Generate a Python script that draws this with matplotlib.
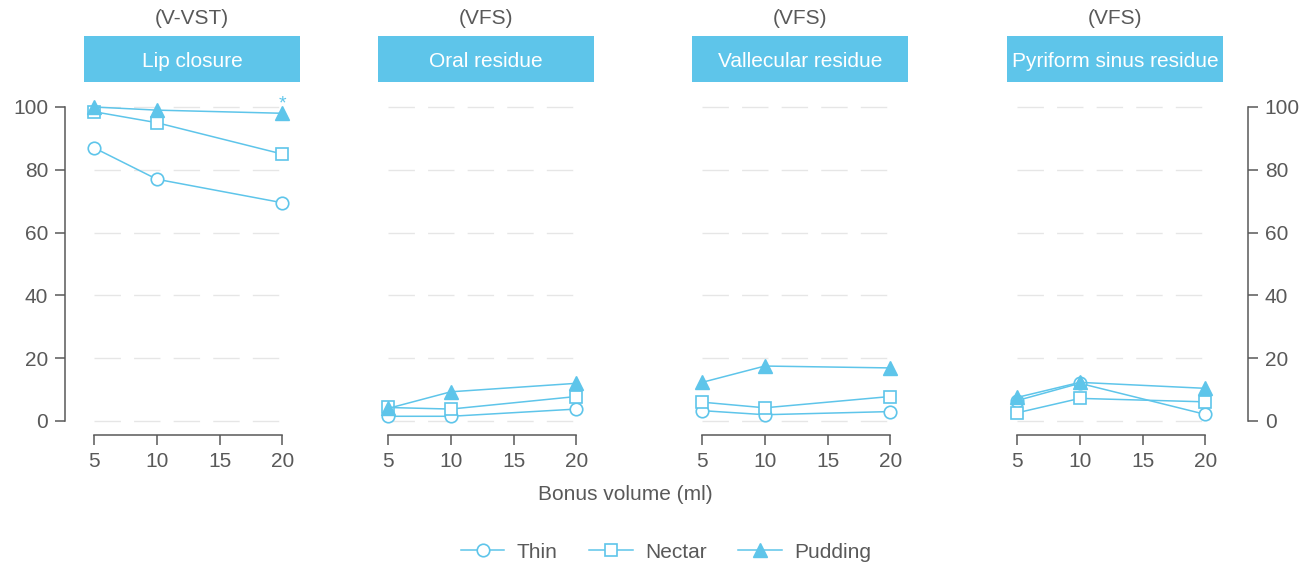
import matplotlib.pyplot as plt
from matplotlib.patches import Rectangle
from matplotlib.lines import Line2D

plt.rcParams['font.family'] = ['Liberation Sans', 'DejaVu Sans']

# data
volumes = [5, 10, 20]
panels = ['Lip closure', 'Oral residue', 'Vallecular residue', 'Pyriform sinus residue']
methods = ['(V-VST)', '(VFS)', '(VFS)', '(VFS)']
thin = [
    [87, 77, 69.5],
    [1.5, 1.5, 3.8],
    [3.3, 2.0, 3.0],
    [6.5, 12.0, 2.1],
]
nectar = [
    [98.5, 95, 85],
    [4.3, 3.8, 7.8],
    [6.0, 4.2, 7.8],
    [2.6, 7.2, 6.1],
]
pudding = [
    [100, 99, 98],
    [4.0, 9.3, 12.0],
    [12.3, 17.5, 16.9],
    [7.5, 12.3, 10.4],
]
yticks = [0, 20, 40, 60, 80, 100]
xticks = [5, 10, 15, 20]

blue = '#5ec5ea'
grey = '#595959'
fs = 15
W, H = 1304, 567

fig = plt.figure(figsize=(W / 100, H / 100), dpi=100)
lefts = [84, 378, 692, 1007]
aw = 216
top_px, bot_px = 82, 435

axes = []
for i, name in enumerate(panels):
    ax = fig.add_axes([lefts[i] / W, 1 - bot_px / H, aw / W, (bot_px - top_px) / H])
    ax.set_xlim(4.2, 21.4)
    ax.set_ylim(-4.46, 107.96)
    for y in yticks:
        ax.plot([5, 20], [y, y], color='#e6e6e6', lw=1, dashes=(19, 9.5), zorder=0)
    ax.plot(volumes, thin[i], color=blue, lw=1.1, marker='o', ms=9,
            mfc='white', mec=blue, mew=1.2, clip_on=False, zorder=3)
    ax.plot(volumes, nectar[i], color=blue, lw=1.1, marker='s', ms=8,
            mfc='white', mec=blue, mew=1.2, clip_on=False, zorder=4)
    ax.plot(volumes, pudding[i], color=blue, lw=1.1, marker='^', ms=9.5,
            mfc=blue, mec=blue, clip_on=False, zorder=5)

    for s in ['top', 'right', 'left']:
        ax.spines[s].set_visible(False)
    ax.spines['bottom'].set_bounds(5, 20)
    ax.spines['bottom'].set_color(grey)
    ax.spines['bottom'].set_linewidth(1.1)
    ax.set_xticks(xticks)
    ax.tick_params(axis='x', direction='out', length=7, width=1.1, colors=grey,
                   labelsize=fs, pad=5)
    ax.set_yticks([])

    ax.add_patch(Rectangle((0, 1.0), 1, 0.13, transform=ax.transAxes,
                           facecolor=blue, edgecolor='none', clip_on=False))
    ax.text(0.5, 1.058, name, transform=ax.transAxes, ha='center', va='center',
            color='white', fontsize=fs)
    ax.text(0.5, 1.18, methods[i], transform=ax.transAxes, ha='center', va='center',
            color=grey, fontsize=fs)
    axes.append(ax)

# left axis on the first panel, right axis on the last (offsets in points)
for ax, side, off in [(axes[0], 'left', 13.7), (axes[3], 'right', 18)]:
    ax.spines[side].set_visible(True)
    ax.spines[side].set_position(('outward', off))
    ax.spines[side].set_bounds(0, 100)
    ax.spines[side].set_color(grey)
    ax.spines[side].set_linewidth(1.1)
    ax.set_yticks(yticks)
    if side == 'right':
        ax.yaxis.tick_right()
    ax.tick_params(axis='y', direction='out', length=7, width=1.1, colors=grey,
                   labelsize=fs, pad=5)

axes[0].text(20, 101.0, '*', ha='center', va='center', color=blue, fontsize=14)

fig.text(625 / W, 1 - 494 / H, 'Bonus volume (ml)', ha='center', va='center',
         color=grey, fontsize=fs)

handles = [
    Line2D([], [], color=blue, lw=1.1, marker='o', ms=9, mfc='white', mec=blue, mew=1.2),
    Line2D([], [], color=blue, lw=1.1, marker='s', ms=8, mfc='white', mec=blue, mew=1.2),
    Line2D([], [], color=blue, lw=1.1, marker='^', ms=9.5, mfc=blue, mec=blue),
]
fig.legend(handles, ['Thin', 'Nectar', 'Pudding'], loc='center',
           bbox_to_anchor=(666 / W, 1 - 552 / H), ncol=3, frameon=False,
           fontsize=fs, handlelength=2.1, handletextpad=0.6, columnspacing=1.5,
           labelcolor=grey)

fig.savefig('out.png', dpi=100)
